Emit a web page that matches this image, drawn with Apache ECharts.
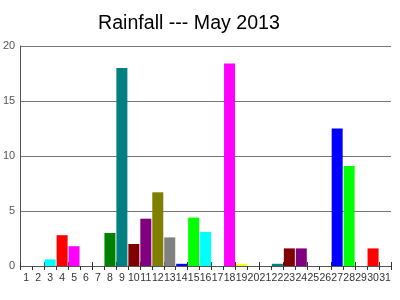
<!DOCTYPE html>
<html><head><meta charset="utf-8">
<script src="https://cdn.jsdelivr.net/npm/echarts@6/dist/echarts.min.js"></script>
<style>html,body{margin:0;padding:0;background:#fff}#c{width:400px;height:300px}</style>
</head><body><div id="c"></div>
<script>
var days = [];
for (var d = 1; d <= 31; d++) days.push(String(d));
var rainfall = [0, 0, 0.6, 2.8, 1.8, 0, 0, 3.0, 18.0, 2.0, 4.3, 6.7, 2.6, 0.2, 4.4, 3.1, 0, 18.4, 0.2, 0, 0, 0.2, 1.6, 1.6, 0, 0, 12.5, 9.1, 0, 1.6, 0];
var palette = ['#0000FF', '#00FF00', '#00FFFF', '#FF0000', '#FF00FF', '#FFFF00', '#000080', '#008000', '#008080', '#800000', '#800080', '#808000', '#808080'];
var yTicks = [0, 5, 10, 15, 20];

var chart = echarts.init(document.getElementById('c'), null, {renderer: 'canvas'});
chart.setOption({
  animation: false,
  title: {
    text: 'Rainfall --- May 2013', left: 93, top: 9,
    textStyle: {fontFamily: 'Liberation Sans, Arial, sans-serif', fontSize: 19.6, fontWeight: 'normal', color: '#000'}
  },
  grid: {left: 20, right: 9, top: 46, bottom: 34},
  xAxis: [{
    type: 'category', data: days, boundaryGap: true,
    axisLine: {lineStyle: {color: '#555', width: 1}},
    axisTick: {show: true, length: 4, lineStyle: {color: '#333'}},
    axisLabel: {interval: 0, margin: 7, color: '#333', fontSize: 10.5, fontFamily: 'Liberation Sans, Arial, sans-serif'}
  }, {
    type: 'category', data: days, boundaryGap: true, position: 'bottom', gridIndex: 0,
    axisLine: {show: false},
    axisTick: {show: true, inside: true, length: 4, lineStyle: {color: '#333'}},
    axisLabel: {show: false}
  }],
  yAxis: {
    type: 'value', min: 0, max: 20, interval: 5,
    axisLine: {show: true, lineStyle: {color: '#555'}},
    axisTick: {show: false},
    splitLine: {lineStyle: {color: '#777', width: 1}},
    axisLabel: {margin: 5, color: '#555', fontSize: 11, fontFamily: 'Liberation Sans, Arial, sans-serif',
      formatter: function (v) { return yTicks.indexOf(v) >= 0 ? String(v) : ''; }}
  },
  series: [{
    type: 'bar', data: rainfall, xAxisIndex: 0, barCategoryGap: '8%',
    itemStyle: {color: function (p) { return palette[p.dataIndex % palette.length]; }}
  }]
});
</script></body></html>
